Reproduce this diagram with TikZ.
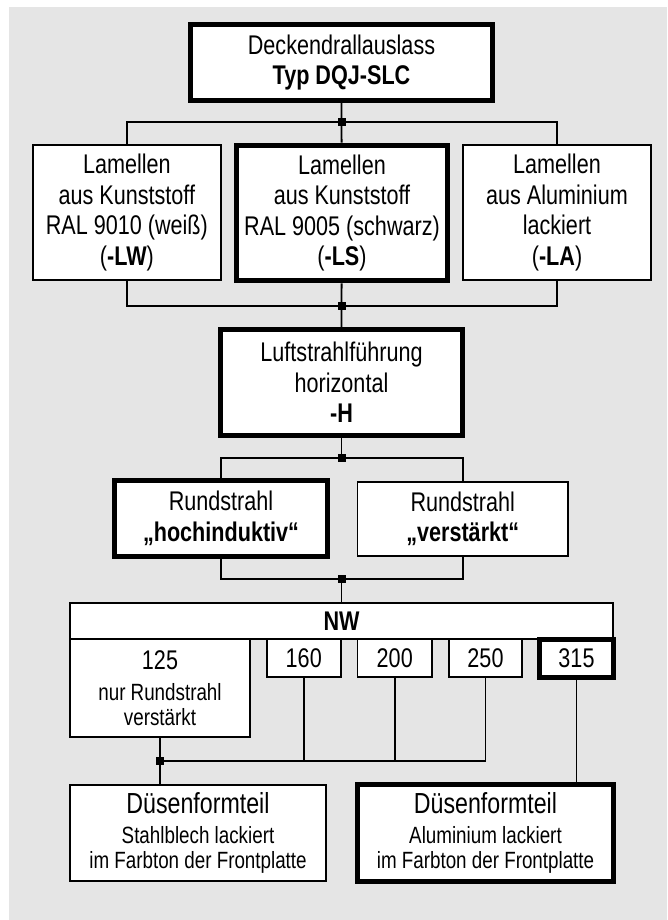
\documentclass[tikz,border=0pt]{standalone}
\usepackage{fontspec}
\setmainfont[FakeStretch=0.8]{Liberation Sans}
\usetikzlibrary{calc}
\definecolor{panelbg}{HTML}{E5E5E5}
\newcommand{\bigfnt}{\fontsize{27}{30.5}\selectfont}
\newcommand{\midfnt}{\fontsize{29}{30.5}\selectfont}
\newcommand{\smlfnt}{\fontsize{23.5}{25}\selectfont}

\begin{document}
\begin{tikzpicture}[x=1pt, y=-1pt,
    box/.style={draw, line width=1.8pt, fill=white, inner sep=0pt, align=center, font=\bigfnt},
    selbox/.style={box, line width=5pt},
    link/.style={line width=1.8pt},
    dot/.style={fill, inner sep=0pt, minimum size=8pt}
]
\useasboundingbox (0,0) rectangle (667,920);
\fill[panelbg] (9,7) rectangle (667,920);

\node[selbox, minimum width=302pt, minimum height=76.3pt] (typ) at (341.5,62.35) {Deckendrallauslass\\\textbf{Typ DQJ-SLC}};
\node[box, minimum width=187.9pt, minimum height=135.2pt] (lamw) at (126.85,212.5) {Lamellen\\aus Kunststoff\\RAL 9010 (weiß)\\(\textbf{-LW})};
\node[selbox, minimum width=211pt, minimum height=135.6pt] (lams) at (342,213) {Lamellen\\aus Kunststoff\\RAL 9005 (schwarz)\\(\textbf{-LS})};
\node[box, minimum width=188.2pt, minimum height=135.2pt] (lama) at (557,212.5) {Lamellen\\aus Aluminium\\lackiert\\(\textbf{-LA})};
\node[selbox, minimum width=242pt, minimum height=106pt] (luft) at (341.5,382.5) {Luftstrahlführung\\horizontal\\\textbf{-H}};
\node[selbox, minimum width=213pt, minimum height=76pt] (rundh) at (221,518.5) {Rundstrahl\\\textbf{„hochinduktiv“}};
\node[box, minimum width=210.7pt, minimum height=74.2pt] (rundv) at (462.75,519) {Rundstrahl\\\textbf{„verstärkt“}};

% Nennweiten
\node[box, minimum width=543.2pt, minimum height=36.5pt] (nw) at (341.5,620.85) {\textbf{NW}};
\node[box, minimum width=180.2pt, minimum height=98pt] (nw125) at (160,688.1) {125\\\smlfnt nur Rundstrahl\\[-5.5pt]\smlfnt verstärkt};
\node[box, minimum width=73.7pt, minimum height=38pt] (nw160) at (303.75,658.1) {160};
\node[box, minimum width=74.7pt, minimum height=38pt] (nw200) at (394.75,658.1) {200};
\node[box, minimum width=73.2pt, minimum height=38pt] (nw250) at (485.5,658.1) {250};
\node[selbox, minimum width=74pt, minimum height=38pt] (nw315) at (576.5,658.5) {315};

\node[box, minimum width=256.2pt, minimum height=96.2pt] (dusst) at (198,833) {\midfnt Düsenformteil\\\smlfnt Stahlblech lackiert\\[-5.5pt]\smlfnt im Farbton der Frontplatte};
\node[selbox, minimum width=256pt, minimum height=97pt] (dusal) at (485.5,833) {\midfnt Düsenformteil\\\smlfnt Aluminium lackiert\\[-5.5pt]\smlfnt im Farbton der Frontplatte};

\coordinate (j1) at (341.5,122);
\coordinate (j2) at (341.5,306);
\coordinate (j3) at (341.5,458);
\coordinate (j4) at (341.5,579);
\coordinate (j5) at (160,761);

\draw[link] (typ) -- (j1) -- (lams);
\draw[link] (lamw.north) |- (j1) -| (lama.north);
\draw[link] (lams) -- (j2) -- (luft);
\draw[link] (lamw.south) |- (j2) -| (lama.south);
\draw[link] (luft) -- (j3);
\draw[link] (rundh.north) |- (j3) -| (rundv.north);
\draw[link] (rundh.south) |- (j4) -| (rundv.south);
\draw[link] (j4) -- (nw);
\draw[link] (nw125) -- (j5) -- (j5 |- dusst.north);
\draw[link] (nw160.south) -- (nw160.south |- j5);
\draw[link] (nw200.south) -- (nw200.south |- j5);
\draw[link] (j5) -| (nw250.south);
\draw[link] (nw315.south) -- (nw315.south |- dusal.north);

\foreach \j in {1,...,5}
    \node[dot] (dot\j) at (j\j) {};
\end{tikzpicture}
\end{document}
